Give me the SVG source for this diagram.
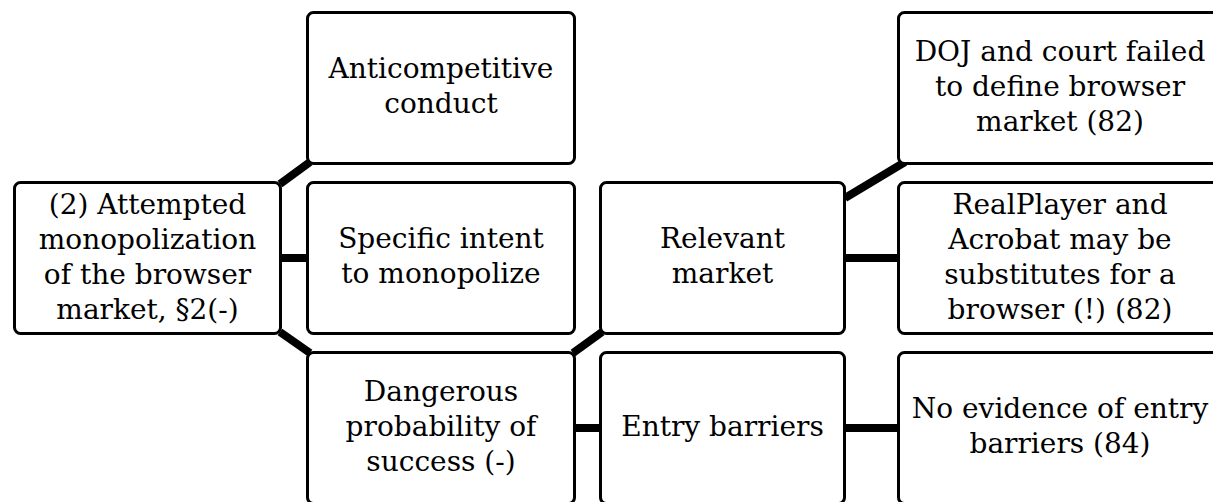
<svg xmlns="http://www.w3.org/2000/svg" width="1213" height="502" viewBox="0 0 1213 502">
  <style>
    .box { fill: #ffffff; stroke: #000000; stroke-width: 3; }
    .lbl { font-family: "DejaVu Serif", "Liberation Serif", serif; font-size: 28px; fill: #000000; text-anchor: middle; }
    .link { stroke: #000000; stroke-width: 8; fill: none; stroke-linecap: butt; }
  </style>

  <!-- connectors -->
  <g id="connectors">
    <line class="link" x1="280" y1="184" x2="310" y2="162"/>
    <line class="link" x1="281" y1="258" x2="307" y2="258"/>
    <line class="link" x1="280" y1="332" x2="310" y2="353"/>
    <line class="link" x1="573" y1="353" x2="602" y2="332"/>
    <line class="link" x1="575" y1="428" x2="600" y2="428"/>
    <line class="link" x1="845" y1="198" x2="905" y2="162"/>
    <line class="link" x1="845" y1="258" x2="898" y2="258"/>
    <line class="link" x1="845" y1="428" x2="898" y2="428"/>
  </g>

  <!-- root claim -->
  <g id="attempted-monopolization">
    <rect class="box" x="14.5" y="182.5" width="266" height="151" rx="6"/>
    <text class="lbl" x="147.5" y="214">(2) Attempted</text>
    <text class="lbl" x="147.5" y="249">monopolization</text>
    <text class="lbl" x="147.5" y="284">of the browser</text>
    <text class="lbl" x="147.5" y="319">market, §2(-)</text>
  </g>

  <!-- elements -->
  <g id="anticompetitive-conduct">
    <rect class="box" x="307.5" y="12.5" width="267" height="151" rx="6"/>
    <text class="lbl" x="441" y="78">Anticompetitive</text>
    <text class="lbl" x="441" y="113">conduct</text>
  </g>

  <g id="specific-intent">
    <rect class="box" x="307.5" y="182.5" width="267" height="151" rx="6"/>
    <text class="lbl" x="441" y="248">Specific intent</text>
    <text class="lbl" x="441" y="283">to monopolize</text>
  </g>

  <g id="dangerous-probability">
    <rect class="box" x="307.5" y="352.5" width="267" height="151" rx="6"/>
    <text class="lbl" x="441" y="401">Dangerous</text>
    <text class="lbl" x="441" y="436">probability of</text>
    <text class="lbl" x="441" y="471">success (-)</text>
  </g>

  <!-- sub-elements -->
  <g id="relevant-market">
    <rect class="box" x="600.5" y="182.5" width="244" height="151" rx="6"/>
    <text class="lbl" x="722.5" y="248">Relevant</text>
    <text class="lbl" x="722.5" y="283">market</text>
  </g>

  <g id="entry-barriers">
    <rect class="box" x="600.5" y="352.5" width="244" height="151" rx="6"/>
    <text class="lbl" x="722.5" y="436">Entry barriers</text>
  </g>

  <!-- findings -->
  <g id="market-undefined">
    <rect class="box" x="898.5" y="12.5" width="324" height="151" rx="6"/>
    <text class="lbl" x="1060" y="61">DOJ and court failed</text>
    <text class="lbl" x="1060" y="96">to define browser</text>
    <text class="lbl" x="1060" y="131">market (82)</text>
  </g>

  <g id="substitutes">
    <rect class="box" x="898.5" y="182.5" width="324" height="151" rx="6"/>
    <text class="lbl" x="1060" y="214">RealPlayer and</text>
    <text class="lbl" x="1060" y="249">Acrobat may be</text>
    <text class="lbl" x="1060" y="284">substitutes for a</text>
    <text class="lbl" x="1060" y="319">browser (!) (82)</text>
  </g>

  <g id="no-entry-barriers">
    <rect class="box" x="898.5" y="352.5" width="324" height="151" rx="6"/>
    <text class="lbl" x="1060" y="418">No evidence of entry</text>
    <text class="lbl" x="1060" y="453">barriers (84)</text>
  </g>
</svg>
